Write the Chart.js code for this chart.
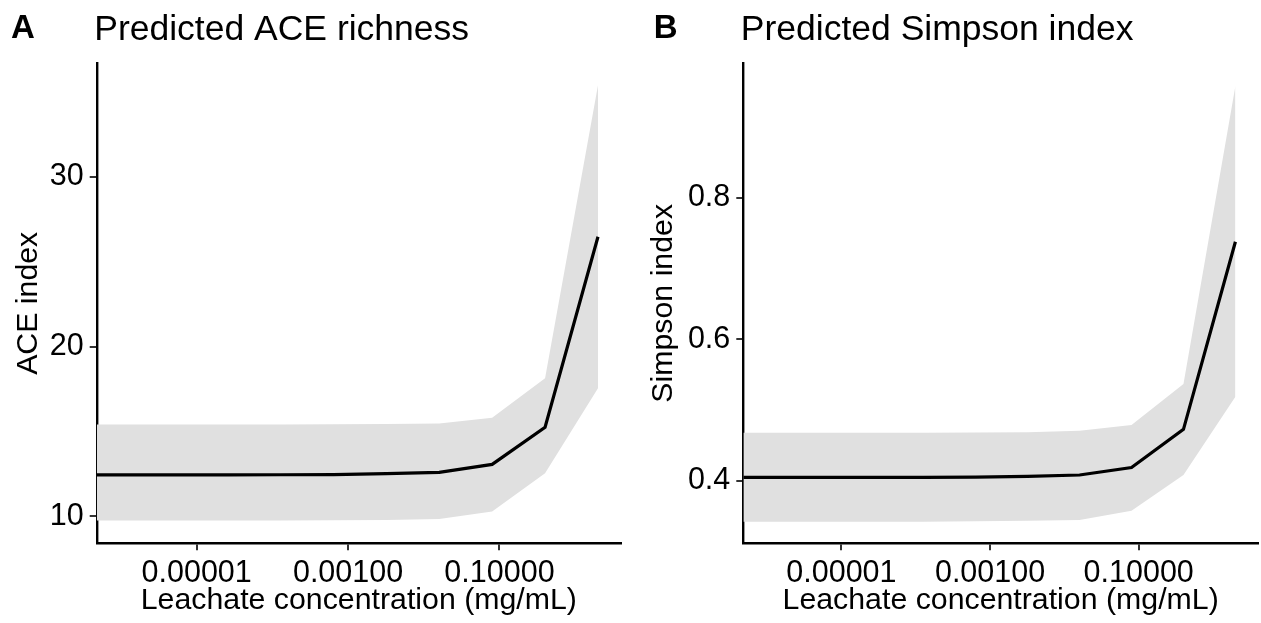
<!DOCTYPE html>
<html>
<head>
<meta charset="utf-8">
<script src="https://cdn.jsdelivr.net/npm/chart.js@4.4.1/dist/chart.umd.min.js"></script>
<style>
  html, body { margin: 0; padding: 0; background: #fff; }
  #wrap { position: relative; width: 1261px; height: 623px; }
  canvas { position: absolute; top: 0; }
</style>
</head>
<body>
<div id="wrap">
  <canvas id="aceChart" width="631" height="623" style="left:0px"></canvas>
  <canvas id="simpsonChart" width="630" height="623" style="left:631px"></canvas>
</div>
<script>
// Leachate concentrations (mg/mL), 5-fold dilution series plus the 0 control
const concentration = [0, 0.000001024, 0.00000512, 0.0000256, 0.000128, 0.00064, 0.0032, 0.016, 0.08, 0.4, 2];

// Panel A: predicted ACE richness
const aceFit   = [12.45, 12.45, 12.45, 12.45, 12.46, 12.47, 12.52, 12.60, 13.07, 15.26, 26.48];
const aceLower = [9.76, 9.76, 9.76, 9.76, 9.77, 9.78, 9.80, 9.85, 10.30, 12.54, 17.56];
const aceUpper = [15.42, 15.42, 15.42, 15.42, 15.42, 15.43, 15.45, 15.48, 15.81, 18.15, 35.40];

// Panel B: predicted Simpson index
const simpsonFit   = [0.405, 0.405, 0.405, 0.405, 0.405, 0.4055, 0.4065, 0.4085, 0.419, 0.473, 0.738];
const simpsonLower = [0.3425, 0.3425, 0.3425, 0.3425, 0.3425, 0.343, 0.344, 0.345, 0.358, 0.4085, 0.519];
const simpsonUpper = [0.468, 0.468, 0.468, 0.468, 0.468, 0.4685, 0.469, 0.471, 0.479, 0.537, 0.958];

// Tick values and labels
const xTicks = [0.00001, 0.001, 0.1];
const xTickLabels = ['0.00001', '0.00100', '0.10000'];
const aceTicks = [10, 20, 30];
const aceTickLabels = ['10', '20', '30'];
const simpsonTicks = [0.4, 0.6, 0.8];
const simpsonTickLabels = ['0.4', '0.6', '0.8'];

// axis limits (log10 range of x is about -6.32 .. 0.605)
const X_MIN = Math.pow(10, -6.32);
const X_MAX = Math.pow(10, 0.605);

const FONT = '"Liberation Sans", Arial, Helvetica, sans-serif';

// the 0 control can't sit on a log axis, ggplot puts it at the panel edge
function toPoints(ys) {
    return concentration.map((c, i) => ({ x: c > 0 ? c : X_MIN, y: ys[i] }));
}

// titles, panel letters and axis titles
const panelText = {
    id: 'panelText',
    afterDraw(chart, args, opts) {
        const ctx = chart.ctx;
        const a = chart.chartArea;
        ctx.save();
        ctx.fillStyle = '#000';
        ctx.textBaseline = 'alphabetic';
        ctx.textAlign = 'left';
        ctx.font = 'bold 33px ' + FONT;
        ctx.fillText(opts.letter, opts.letterX, 38);
        ctx.font = '35.5px ' + FONT;
        ctx.fillText(opts.title, a.left - 2.5, 39.5);
        ctx.font = '30.3px ' + FONT;
        ctx.textAlign = 'center';
        ctx.fillText(opts.xTitle, (a.left + a.right) / 2, 608.5);
        ctx.translate(opts.yTitleX, (a.top + a.bottom) / 2);
        ctx.rotate(-Math.PI / 2);
        ctx.fillText(opts.yTitle, 0, 0);
        ctx.restore();
    }
};

function makePanel(id, p) {
    const ctx = document.getElementById(id).getContext('2d');
    return new Chart(ctx, {
        type: 'line',
        data: {
            datasets: [
                {
                    label: 'lower',
                    data: toPoints(p.lower),
                    borderWidth: 0,
                    pointRadius: 0,
                    fill: false,
                    order: 2
                },
                {
                    label: 'upper',
                    data: toPoints(p.upper),
                    borderWidth: 0,
                    pointRadius: 0,
                    backgroundColor: '#e0e0e0',
                    fill: '-1',
                    order: 1
                },
                {
                    label: 'fit',
                    data: toPoints(p.fit),
                    borderColor: '#000',
                    borderWidth: 3.2,
                    pointRadius: 0,
                    fill: false,
                    tension: 0,
                    order: 0
                }
            ]
        },
        options: {
            responsive: false,
            animation: false,
            devicePixelRatio: 1,
            layout: { padding: { left: 0, top: 63.3, right: p.padRight, bottom: 0 } },
            plugins: {
                legend: { display: false },
                tooltip: { enabled: false },
                panelText: {
                    letter: p.letter,
                    letterX: p.letterX,
                    title: p.title,
                    xTitle: 'Leachate concentration (mg/mL)',
                    yTitle: p.yTitle,
                    yTitleX: p.yTitleX
                }
            },
            scales: {
                x: {
                    type: 'logarithmic',
                    min: X_MIN,
                    max: X_MAX,
                    afterBuildTicks: axis => { axis.ticks = xTicks.map(v => ({ value: v })); },
                    afterFit: axis => { axis.height = 79.7; },
                    border: { display: true, color: '#000', width: 2.4 },
                    grid: { display: true, drawOnChartArea: false, drawTicks: true, tickLength: 7, color: '#333', lineWidth: 2 },
                    ticks: {
                        autoSkip: false,
                        maxRotation: 0,
                        padding: 5,
                        color: '#000',
                        font: { family: FONT, size: 30.5 },
                        callback: (v, i) => xTickLabels[i]
                    }
                },
                y: {
                    type: 'linear',
                    min: p.yMin,
                    max: p.yMax,
                    afterBuildTicks: axis => { axis.ticks = p.yTicks.map(v => ({ value: v })); },
                    afterFit: axis => { axis.width = p.yAxisW; },
                    border: { display: true, color: '#000', width: 2.4 },
                    grid: { display: true, drawOnChartArea: false, drawTicks: true, tickLength: 7, color: '#333', lineWidth: 2 },
                    ticks: {
                        autoSkip: false,
                        padding: 6,
                        color: '#000',
                        font: { family: FONT, size: 30.5 },
                        callback: (v, i) => p.yTickLabels[i]
                    }
                }
            }
        },
        plugins: [panelText]
    });
}

makePanel('aceChart', {
    letter: 'A', letterX: 11, title: 'Predicted ACE richness', yTitle: 'ACE index', yTitleX: 36.7,
    fit: aceFit, lower: aceLower, upper: aceUpper,
    yMin: 8.42, yMax: 36.7, yTicks: aceTicks, yTickLabels: aceTickLabels,
    yAxisW: 96.7, padRight: 10
});

makePanel('simpsonChart', {
    letter: 'B', letterX: 22.7, title: 'Predicted Simpson index', yTitle: 'Simpson index', yTitleX: 41,
    fit: simpsonFit, lower: simpsonLower, upper: simpsonUpper,
    yMin: 0.312, yMax: 0.990, yTicks: simpsonTicks, yTickLabels: simpsonTickLabels,
    yAxisW: 112.3, padRight: 3
});
</script>
</body>
</html>
